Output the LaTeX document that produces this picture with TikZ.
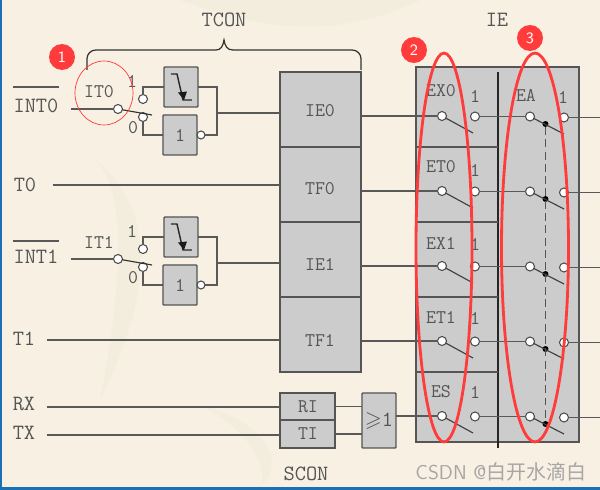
\documentclass[tikz,border=0pt]{standalone}
\usepackage{amsmath,amssymb}
\usepackage{fontspec}
\usepackage{xcolor}
\usepackage{tikz}
\newfontfamily\cjk{Noto Sans CJK SC}
\definecolor{paper}{HTML}{F8F1E3}
\definecolor{paperdark}{HTML}{F3EDDD}
\definecolor{edgeblue}{HTML}{1B6FB5}
\definecolor{boxgray}{HTML}{CCCCCC}
\definecolor{inkgray}{HTML}{555555}
\definecolor{markred}{HTML}{FF3B3B}
\usetikzlibrary{shapes.geometric, arrows.meta, positioning, fit, backgrounds}

\begin{document}
\begin{tikzpicture}[
      x=0.02cm, y=-0.02cm,
      lab/.style={text=inkgray, inner sep=0pt, font=\ttfamily\fontsize{12.4}{14}\selectfont},
      tag/.style={text=inkgray, inner sep=0pt, font=\ttfamily\fontsize{11}{12}\selectfont},
      regbox/.style={draw=inkgray, fill=boxgray, line width=0.7pt, rectangle, outer sep=0pt,
          minimum width=1.62cm, minimum height=1.5cm, inner sep=0pt},
      gatebox/.style={draw=inkgray, fill=boxgray, line width=0.8pt, rectangle, rounded corners=0.5pt,
          outer sep=0pt, minimum width=0.68cm, minimum height=0.8cm, inner sep=0pt},
      pin/.style={draw=black!70, fill=white, circle, line width=0.6pt, minimum size=0.18cm,
          inner sep=0pt, outer sep=0pt},
      dot/.style={fill=black, circle, minimum size=0.12cm, inner sep=0pt, outer sep=0pt},
      wire/.style={draw=black!65, line width=0.65pt},
      badge/.style={fill=markred, circle, minimum size=0.52cm, inner sep=0pt, text=white,
          font=\sffamily\fontsize{9}{10}\selectfont},
      ring/.style={draw=markred, line width=1.6pt, ellipse, inner sep=0pt, outer sep=0pt},
    ]

    \useasboundingbox (0,0) rectangle (600,490);
    \fill[paper] (0,0) rectangle (600,490);
    \fill[paperdark] (95,160) .. controls (130,190) and (120,300) .. (100,400)
      .. controls (150,300) and (160,210) .. (95,160) -- cycle;
    \fill[paperdark] (180,0) .. controls (260,30) and (340,40) .. (420,0) -- cycle;
    \fill[paperdark] (200,405) .. controls (250,430) and (270,470) .. (260,487)
      .. controls (290,460) and (260,420) .. (200,405) -- cycle;
    \fill[edgeblue] (0,0) rectangle (2,490);
    \fill[edgeblue] (0,487) rectangle (600,490);

    \node[regbox, minimum width=3.26cm, minimum height=7.5cm, anchor=north west] (iebox) at (416,67) {};
    \node[regbox, anchor=north west] (IE0) at (280,72) {};
    \node[regbox, below=0pt of IE0] (TF0) {};
    \node[regbox, below=0pt of TF0] (IE1) {};
    \node[regbox, below=0pt of IE1] (TF1) {};
    \node[tag] at (320,111) (IE0t) {IE0};
    \node[tag] at (320,189) (TF0t) {TF0};
    \node[tag] at (320,264) (IE1t) {IE1};
    \node[tag] at (320,340) (TF1t) {TF1};

    \node[regbox, minimum width=1.1cm, minimum height=0.54cm, anchor=north west] (RI) at (280,393) {};
    \node[regbox, minimum width=1.1cm, minimum height=0.56cm, below=0pt of RI] (TI) {};
    \node[tag] at (308,407) (RIt) {RI};
    \node[tag] at (308,434) (TIt) {TI};
    \node[gatebox, minimum height=1.1cm, anchor=north west] (orgate) at (362,393) {};
    \node[lab] at (379,421) (orgatet) {$\geqslant$1};

    \node[lab] at (224,20) (tcon) {TCON};
    \node[lab] at (497,20) (ie) {IE};
    \node[lab] at (306,474) (scon) {SCON};
    \node[lab] at (36,106) (int0) {INT0};
    \node[lab] at (36,257) (int1) {INT1};
    \node[lab] at (25,185) (t0) {T0};
    \node[lab] at (24,339) (t1) {T1};
    \node[lab] at (24,404) (rx) {RX};
    \node[lab] at (24,433) (tx) {TX};
    \draw[wire] (int0.north west |- 0,87) -- (int0.north east |- 0,87);
    \draw[wire] (int1.north west |- 0,241) -- (int1.north east |- 0,241);

    \foreach \n/\y/\it in {0/0/IT0, 1/150/IT1} {
      \begin{scope}[shift={(0,\y)}]
        \node[gatebox, anchor=north west] (edge\n) at (164,67) {};
        \node[gatebox, tag, anchor=north west] (inv\n) at (163,115) {1};
        \node[pin, minimum size=0.16cm, right=0pt of inv\n] (bub\n) {};
        \node[pin] (sw\n) at (118,109) {};
        \node[pin] (up\n) at (143,99) {};
        \node[pin] (lo\n) at (143,117) {};
        \node[tag] at (99,92) (it\n) {\it};
        \node[tag] at (132,81) (one\n) {1};
        \node[tag] at (133,128) (zero\n) {0};
        \coordinate (in\n) at (71,109);
        \coordinate (lever\n) at (152,115);
        \coordinate (merge\n) at (217,113);
        \draw[wire] (in\n) -- (sw\n);
        \draw[wire, black!80] (sw\n) -- (lever\n);
        \draw[wire] (up\n) |- (edge\n);
        \draw[wire] (lo\n) |- (inv\n);
        \draw[wire] (edge\n) -| (merge\n);
        \draw[wire] (bub\n) -| (merge\n);
        \draw[wire] (merge\n) -- (merge\n -| IE0.west);
        \draw[black!85, line width=0.8pt] (171,74) -- (177,74) -- (183,100) -- (192,100);
        \fill[black!90] (178,92.5) -- (187,91.5) -- (184,100) -- cycle;
      \end{scope}
    }

    \coordinate (t0in) at (53,185);
    \coordinate (t1in) at (47,340);
    \coordinate (rxin) at (47,407);
    \coordinate (txin) at (47,435);
    \draw[wire] (t0in) -- (t0in -| TF0.west);
    \draw[wire] (t1in) -- (t1in -| TF1.west);
    \draw[wire] (rxin) -- (rxin -| RI.west);
    \draw[wire] (txin) -- (txin -| TI.west);
    \draw[wire] (RI.east) -- (RI.east -| orgate.west);
    \draw[wire] (TI.east) -- (TI.east -| orgate.west);

    \coordinate (split) at (498,72);
    \coordinate (splitend) at (498,448);
    \draw[black!85, line width=0.6pt] (split) -- (splitend);
    \foreach \y in {147,222,297,372} {
      \coordinate (divL\y) at (416,\y);
      \coordinate (divR\y) at (498,\y);
      \draw[inkgray, line width=0.8pt] (divL\y) -- (divR\y);
    }

    \foreach \n/\y/\tg/\ty/\oy in {1/116/EX0/91/96, 2/191/ET0/167/170, 3/266/EX1/243/244, 4/341/ET1/317/318, 5/416/ES/392/392} {
      \node[pin] (a\n) at (442,\y) {};
      \node[pin] (b\n) at (475,\y+0.5) {};
      \node[pin] (c\n) at (530,\y+0.5) {};
      \node[pin] (d\n) at (564,\y+1.5) {};
      \node[dot] (m\n) at (545.5,\y+8) {};
      \node[tag] at (441,\ty) (en\n) {\tg};
      \node[tag] at (475,\oy) (ea\n) {1};
      \coordinate (leva\n) at (473,\y+17);
      \coordinate (levc\n) at (564,\y+18);
      \coordinate (out\n) at (600,\y+1.5);
      \draw[black!75, line width=0.65pt] (a\n) -- (leva\n);
      \draw[black!75, line width=0.65pt] (c\n) -- (levc\n);
      \draw[wire] (b\n) -- (c\n);
      \draw[wire] (d\n) -- (out\n);
    }
    \node[tag] at (526,95) (eat) {EA};
    \node[tag] at (563,97) (eaone) {1};
    \draw[inkgray, line width=0.9pt, dash pattern=on 4.5pt off 2.5pt] (m1) -- (m5);

    \draw[wire] (IE0.east |- a1) -- (a1);
    \draw[wire] (TF0.east |- a2) -- (a2);
    \draw[wire] (IE1.east |- a3) -- (a3);
    \draw[wire] (TF1.east |- a4) -- (a4);
    \draw[wire] (orgate.east |- a5) -- (a5);

    \coordinate (bracea) at (87,70);
    \coordinate (braceb) at (361,70);
    \draw[black!80, line width=0.7pt, rounded corners=5pt] (bracea) -- (87,50) -- (216,50);
    \draw[black!80, line width=0.7pt] (216,50) .. controls (221,50) and (223,46) .. (224,40)
      .. controls (225,46) and (227,50) .. (233,50);
    \draw[black!80, line width=0.7pt, rounded corners=5pt] (233,50) -- (361,50) -- (braceb);

    \node[draw=markred, line width=0.4pt, ellipse, minimum width=1.16cm, minimum height=1.28cm, inner sep=0pt] (ring1) at (104,93) {};
    \node[ring, minimum width=1.12cm, minimum height=7.78cm] (ring2) at (444,247.5) {};
    \node[ring, minimum width=1.34cm, minimum height=7.78cm] (ring3) at (535,247.5) {};
    \node[badge] (num1) at (62,57) {1};
    \node[badge] (num2) at (414,50) {2};
    \node[badge] (num3) at (530,38) {3};

    \node[text=black!35, inner sep=0pt, font=\sffamily\fontsize{11.4}{13}\selectfont] (mark) at (501,472) {CSDN @{\cjk 白开水滴白}};

  \end{tikzpicture}
\end{document}
